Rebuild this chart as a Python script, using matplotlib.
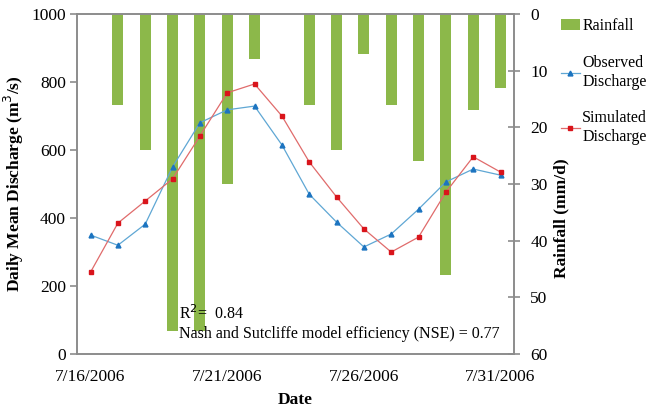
import numpy as np
import matplotlib
matplotlib.use("Agg")
import matplotlib.pyplot as plt
from matplotlib.patches import Patch
from matplotlib.lines import Line2D

plt.rcParams.update({
    "font.family": "Liberation Serif",
    "font.size": 12.5,
})

# Donnees
dates = ["7/16/2006", "7/17/2006", "7/18/2006", "7/19/2006", "7/20/2006", "7/21/2006",
         "7/22/2006", "7/23/2006", "7/24/2006", "7/25/2006", "7/26/2006", "7/27/2006",
         "7/28/2006", "7/29/2006", "7/30/2006", "7/31/2006"]
rainfall = [0, 16, 24, 56, 56, 30, 8, 0, 16, 24, 7, 16, 26, 46, 17, 13]
observed = [350, 320, 382, 550, 680, 718, 729, 615, 470, 388, 315, 353, 426, 506, 544, 526]
simulated = [241, 385, 450, 515, 641, 768, 794, 700, 565, 462, 368, 300, 344, 476, 580, 535]
tick_dates = ["7/16/2006", "7/21/2006", "7/26/2006", "7/31/2006"]

x = np.arange(len(dates))
grey = "#8c8c8c"

fig = plt.figure(figsize=(6.46, 4.08), dpi=100)
ax = fig.add_axes([0.119, 0.132, 0.677, 0.834])
ax2 = ax.twinx()

# Pluie (axe droit inverse)
ax2.bar(x, rainfall, width=0.4, color="#8cb84a")
ax2.set_ylim(60, 0)
ax2.set_yticks(range(0, 61, 10))

# Debits
ax.plot(x, observed, color="#5fa7d4", lw=0.9, marker="^", ms=3.5,
        mfc="#1c74c0", mec="#1c74c0")
ax.plot(x, simulated, color="#e06b6b", lw=0.9, marker="s", ms=3.2,
        mfc="#d9141b", mec="#d9141b")
ax.set_zorder(ax2.get_zorder() + 1)
ax.patch.set_visible(False)

ax.set_xlim(-0.5, len(dates) - 0.5)
ax.set_ylim(0, 1000)
ax.set_yticks(range(0, 1001, 200))
ax.set_xticks([dates.index(d) for d in tick_dates])
ax.set_xticklabels(tick_dates)

for a in (ax, ax2):
    for s in a.spines.values():
        s.set_color(grey)
        s.set_linewidth(1.2)
ax.tick_params(axis="y", direction="out", length=5, color=grey, width=1.2, pad=3)
ax.tick_params(axis="x", length=0, pad=11)
ax2.tick_params(axis="y", direction="inout", length=9, color=grey, width=1.2, pad=7)

ax.set_ylabel("Daily Mean Discharge (m$^3$/s)", fontweight="bold", fontsize=12.5, labelpad=4)
ax.set_xlabel("Date", fontweight="bold", fontsize=12.5, labelpad=5)
fig.text(0.869, 0.466, "Rainfall (mm/d)", rotation=90, fontweight="bold",
         fontsize=12.5, ha="center", va="center")

ax.text(3.22, 103, "R$^2$=  0.84", fontsize=11.5, zorder=5)
ax.text(3.22, 47, "Nash and Sutcliffe model efficiency (NSE) = 0.77", fontsize=11.5, zorder=5)

handles = [Patch(facecolor="#8cb84a", label="Rainfall"),
           Line2D([], [], color="#5fa7d4", lw=0.9, marker="^", ms=3.5,
                  mfc="#1c74c0", mec="#1c74c0", label="Observed\nDischarge"),
           Line2D([], [], color="#e06b6b", lw=0.9, marker="s", ms=3.2,
                  mfc="#d9141b", mec="#d9141b", label="Simulated\nDischarge")]
fig.legend(handles=handles, loc="upper left", bbox_to_anchor=(0.868, 0.955),
           frameon=False, handlelength=1.2, handletextpad=0.15, labelspacing=1.3,
           fontsize=11.5, borderaxespad=0, borderpad=0)

fig.savefig("out.png", dpi=100)
